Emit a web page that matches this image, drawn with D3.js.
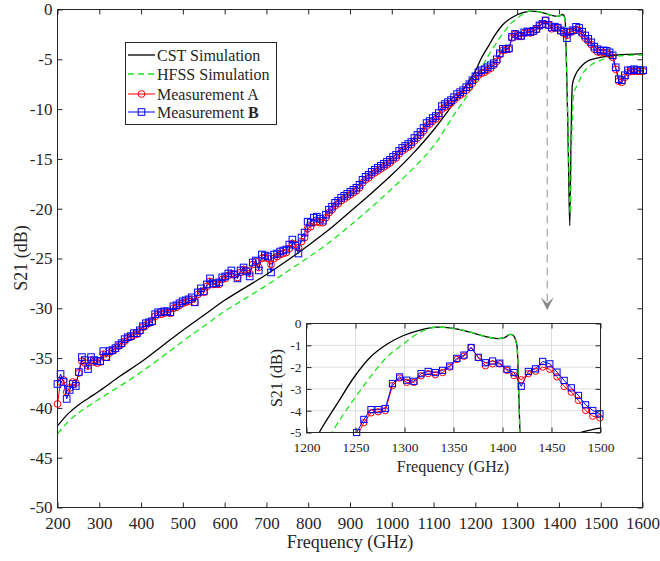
<!DOCTYPE html>
<html>
<head>
<meta charset="utf-8">
<script src="https://cdn.jsdelivr.net/npm/d3@7"></script>
<style>
  body { margin: 0; background: #fff; }
  svg { display: block; }
  text { font-family: "Liberation Serif", "Times New Roman", serif; fill: #262626; }
</style>
</head>
<body>
<svg id="chart" width="660" height="561"></svg>
<script>
// DATA

// CST simulation
var cstFreq = [200,225,250,275,300,350,400,450,500,550,600,650,700,750,800,850,900,950,1000,1050,1100,1150,1180,1200,1213,1231,1248,1265,1282,1299,1316,1333,1350,1367,1383,1395,1402,1408,1411,1413,1415,1416.5,1418,1421,1423.5,1426,1428,1430,1432,1438,1444,1456,1468,1484,1500,1520,1541,1570,1600]
var cstS21 = [-41.8,-40.6,-39.7,-39.0,-38.3,-36.8,-35.4,-33.8,-32.2,-30.7,-29.2,-27.9,-26.6,-25.2,-23.7,-22.1,-20.3,-18.5,-16.6,-14.5,-12.1,-9.3,-7.5,-6.2,-5.0,-3.7,-2.5,-1.55,-0.95,-0.55,-0.3,-0.17,-0.22,-0.4,-0.6,-0.69,-0.65,-0.5,-0.55,-0.7,-1.1,-3.0,-5.3,-11,-17,-21.7,-16,-10.5,-7.6,-6.7,-6.2,-5.6,-5.2,-4.95,-4.8,-4.68,-4.57,-4.5,-4.45]

// HFSS simulation
var hfssFreq = [200,225,250,275,300,350,400,450,500,550,600,650,700,750,800,850,900,950,1000,1050,1100,1150,1200,1226,1248,1265,1282,1299,1316,1333,1350,1367,1383,1395,1402,1408,1411,1413,1415,1416.5,1418,1421,1424,1427,1430,1433,1436,1444,1456,1476,1500,1531,1565,1600]
var hfssS21 = [-42.6,-41.4,-40.5,-39.8,-39.1,-37.8,-36.4,-34.9,-33.3,-31.8,-30.3,-29.0,-27.7,-26.3,-24.9,-23.4,-21.7,-19.9,-18.0,-16.0,-13.7,-10.5,-7.3,-5.0,-3.5,-2.46,-1.54,-0.93,-0.4,-0.17,-0.22,-0.4,-0.6,-0.69,-0.65,-0.5,-0.55,-0.75,-1.2,-3.2,-5.5,-10.5,-16,-20.5,-14,-10,-8.3,-7.6,-6.5,-5.6,-5.1,-4.7,-4.6,-4.57]

// Measurements: sampled every 7.3 GHz starting at 200 GHz
var measStart = 200
var measStep = 7.3
var measA = [
  -39.6,-37.4,-37.2,-38.4,-38.0,-37.4,-37.5,-36.5,-35.3,-35.5,
  -35.8,-35.2,-35.4,-35.5,-35.4,-34.6,-34.9,-34.5,-34.3,-34.1,
  -33.8,-33.6,-33.3,-33.0,-32.9,-32.7,-32.6,-32.3,-31.9,-31.7,
  -31.5,-31.4,-30.8,-30.6,-30.6,-30.5,-30.4,-30.5,-30.0,-29.9,
  -29.7,-29.5,-29.4,-29.3,-29.1,-29.4,-28.6,-28.3,-28.4,-27.8,
  -27.3,-27.6,-27.6,-27.6,-27.1,-27.0,-26.7,-26.5,-26.6,-26.9,
  -26.4,-26.1,-26.2,-26.5,-25.6,-25.3,-25.9,-25.0,-24.9,-25.0,
  -25.6,-25.0,-24.8,-24.6,-24.5,-24.4,-24.0,-23.5,-23.6,-23.9,
  -23.3,-22.9,-22.0,-21.8,-21.4,-21.3,-21.4,-21.4,-20.9,-20.4,
  -20.1,-19.7,-19.5,-19.2,-19.0,-18.8,-18.6,-18.4,-18.2,-17.9,
  -17.4,-17.1,-16.9,-16.6,-16.4,-16.2,-16.0,-15.8,-15.6,-15.4,
  -15.1,-14.9,-14.5,-14.2,-14.0,-13.8,-13.6,-13.2,-12.9,-12.6,
  -12.2,-11.7,-11.5,-11.2,-11.0,-10.7,-10.0,-9.8,-9.6,-9.4,
  -9.1,-8.8,-8.6,-8.4,-8.1,-7.8,-7.4,-7.0,-6.6,-6.4,
  -6.3,-6.1,-5.9,-5.6,-5.2,-4.55,-4.1,-4.05,-4.0,-2.85,
  -2.5,-2.7,-2.7,-2.4,-2.3,-2.35,-2.25,-2.0,-1.65,-1.5,
  -1.1,-1.57,-1.94,-1.85,-1.85,-2.15,-2.39,-2.58,-2.3,-2.19,
  -2.0,-2.1,-2.45,-2.89,-3.15,-3.53,-3.99,-4.25,-4.33,-4.3,
  -4.35,-4.5,-4.8,-6.0,-7.2,-7.3,-6.8,-6.3,-6.2,-6.2,
  -6.2,-6.2,-6.2]
var measB = [
  -37.6,-36.6,-37.4,-39.1,-38.2,-37.6,-37.8,-36.4,-34.9,-35.2,
  -36.1,-34.9,-35.2,-35.3,-35.3,-34.3,-34.9,-34.3,-34.2,-34.0,
  -33.7,-33.5,-33.1,-32.9,-32.8,-32.5,-32.5,-32.2,-31.8,-31.5,
  -31.4,-31.3,-30.6,-30.4,-30.4,-30.3,-30.3,-30.4,-29.8,-29.7,
  -29.5,-29.3,-29.2,-29.1,-28.9,-29.4,-28.4,-28.0,-28.3,-27.6,
  -27.0,-27.5,-27.5,-27.4,-26.9,-26.8,-26.5,-26.2,-26.6,-27.0,
  -26.2,-25.9,-26.3,-26.8,-25.4,-25.2,-26.2,-24.6,-24.7,-24.8,
  -26.4,-24.6,-24.5,-24.3,-24.2,-24.1,-23.6,-23.1,-23.7,-24.5,
  -22.9,-22.4,-21.3,-21.4,-20.9,-20.8,-21.0,-21.2,-20.6,-20.1,
  -19.8,-19.4,-19.2,-18.9,-18.7,-18.5,-18.3,-18.1,-17.9,-17.6,
  -17.1,-16.8,-16.6,-16.3,-16.1,-15.9,-15.7,-15.5,-15.3,-15.1,
  -14.8,-14.6,-14.2,-13.9,-13.7,-13.5,-13.3,-12.9,-12.6,-12.3,
  -11.9,-11.4,-11.2,-10.9,-10.7,-10.4,-9.7,-9.5,-9.3,-9.1,
  -8.8,-8.5,-8.3,-8.1,-7.8,-7.5,-7.1,-6.7,-6.3,-6.1,
  -6.0,-5.8,-5.6,-5.4,-5.0,-4.4,-3.95,-3.95,-3.9,-2.75,
  -2.45,-2.6,-2.65,-2.3,-2.2,-2.25,-2.15,-1.95,-1.6,-1.45,
  -1.1,-1.55,-1.8,-1.72,-1.82,-2.1,-2.25,-2.88,-2.2,-2.08,
  -1.74,-1.85,-2.23,-2.61,-2.95,-3.3,-3.73,-3.99,-4.14,-4.1,
  -4.15,-4.3,-4.6,-5.8,-7.0,-7.1,-6.6,-6.1,-6.1,-6.0,
  -6.1,-6.1,-6.1]

// Main axes ticks
var mainXTicks = [200,300,400,500,600,700,800,900,1000,1100,1200,1300,1400,1500,1600]
var mainYTicks = [-50,-45,-40,-35,-30,-25,-20,-15,-10,-5,0]
// Inset ticks
var insetXTicks = [1200,1250,1300,1350,1400,1450,1500]
var insetYTicks = [-5,-4,-3,-2,-1,0]

// Arrow pointing to the inset (frequency, from dB, to dB)
var arrowFreq = 1372
var arrowFrom = -2.4
var arrowTo = -30.2

var legendNames = ['CST Simulation', 'HFSS Simulation', 'Measurement A', 'Measurement ']


// BUILD SERIES
function zipSeries(fs, vs) {
  return fs.map((f, i) => ({f: f, v: vs[i]}))
}
var cst = zipSeries(cstFreq, cstS21)
var hfss = zipSeries(hfssFreq, hfssS21)
var mA = measA.map((v, i) => ({f: measStart + i * measStep, v: v}))
var mB = measB.map((v, i) => ({f: measStart + i * measStep, v: v}))

var colors = {cst: '#000000', hfss: '#19e619', A: '#ff0000', B: '#0000ff'}
var axisColor = '#262626'

var svg = d3.select('#chart')

// Draws curves + markers inside a given pair of scales
function drawPlot(g, x, y, clipId, opts) {
  let [x0, x1] = x.range()
  let [y0, y1] = y.range()
  g.append('clipPath').attr('id', clipId)
    .append('rect').attr('x', x0).attr('y', y1).attr('width', x1 - x0).attr('height', y0 - y1)

  let line = d3.line().x(d => x(d.f)).y(d => y(d.v))
  let smooth = d3.line().x(d => x(d.f)).y(d => y(d.v)).curve(d3.curveMonotoneX)

  let lines = g.append('g').attr('clip-path', `url(#${clipId})`)
  lines.append('path').datum(cst).attr('d', smooth)
    .attr('fill', 'none').attr('stroke', colors.cst).attr('stroke-width', opts.simWidth)
  lines.append('path').datum(hfss).attr('d', smooth)
    .attr('fill', 'none').attr('stroke', colors.hfss).attr('stroke-width', opts.simWidth)
    .attr('stroke-dasharray', opts.dash)
  lines.append('path').datum(mA).attr('d', line)
    .attr('fill', 'none').attr('stroke', colors.A).attr('stroke-width', 1)
  lines.append('path').datum(mB).attr('d', line)
    .attr('fill', 'none').attr('stroke', colors.B).attr('stroke-width', 1)

  // Markers: keep those whose centre is inside the axes (not clipped, like MATLAB)
  let [fx0, fx1] = x.domain()
  let [fy0, fy1] = y.domain()
  let inside = d => d.f >= fx0 - 0.5 && d.f <= fx1 + 2 && d.v >= fy0 - 0.05 && d.v <= fy1
  g.append('g').selectAll('circle')
    .data(mA.filter(inside))
    .join('circle')
      .attr('cx', d => x(d.f)).attr('cy', d => y(d.v)).attr('r', opts.r)
      .attr('fill', 'none').attr('stroke', colors.A).attr('stroke-width', 1)
  let s = opts.sq
  g.append('g').selectAll('rect')
    .data(mB.filter(inside))
    .join('rect')
      .attr('x', d => x(d.f) - s / 2).attr('y', d => y(d.v) - s / 2)
      .attr('width', s).attr('height', s)
      .attr('fill', 'none').attr('stroke', colors.B).attr('stroke-width', 1)
}

// Inward ticks on all four sides + box
function drawAxes(g, x, y, xt, yt, fontSize, xPad, yPad) {
  let [x0, x1] = x.range()
  let [y0, y1] = y.range()
  let fmt = d => String(d)
  let bottom = g.append('g').attr('transform', `translate(0,${y0})`)
    .call(d3.axisBottom(x).tickValues(xt).tickSize(-5).tickPadding(xPad).tickFormat(fmt))
  let left = g.append('g').attr('transform', `translate(${x0},0)`)
    .call(d3.axisLeft(y).tickValues(yt).tickSize(-5).tickPadding(yPad).tickFormat(fmt))
  let top = g.append('g').attr('transform', `translate(0,${y1})`)
    .call(d3.axisTop(x).tickValues(xt).tickSize(-5).tickFormat(''))
  let right = g.append('g').attr('transform', `translate(${x1},0)`)
    .call(d3.axisRight(y).tickValues(yt).tickSize(-5).tickFormat(''))
  for (let a of [bottom, left, top, right]) {
    a.select('.domain').remove()
    a.selectAll('line').attr('stroke', axisColor)
    a.selectAll('text').attr('fill', axisColor)
      .style('font-size', fontSize + 'px')
      .style('font-family', '"Liberation Serif", "Times New Roman", serif')
  }
  g.append('rect').attr('x', x0).attr('y', y1).attr('width', x1 - x0).attr('height', y0 - y1)
    .attr('fill', 'none').attr('stroke', axisColor).attr('stroke-width', 1)
}


// MAIN CHART
var x = d3.scaleLinear().domain([200, 1600]).range([57.5, 642.5])
var y = d3.scaleLinear().domain([-50, 0]).range([507.5, 9.5])

var gMain = svg.append('g')
drawPlot(gMain, x, y, 'clipMain', {simWidth: 1.3, dash: '6,4', r: 3.4, sq: 6.6})
drawAxes(gMain, x, y, mainXTicks, mainYTicks, 17, 9, 5)

gMain.append('text')
  .attr('transform', 'translate(27,258) rotate(-90)')
  .attr('text-anchor', 'middle')
  .style('font-size', '18px')
  .text('S21 (dB)')
gMain.append('text')
  .attr('x', 350).attr('y', 548)
  .attr('text-anchor', 'middle')
  .style('font-size', '18px')
  .text('Frequency (GHz)')

// Dashed arrow from the peak to the inset
gMain.append('line')
  .attr('x1', x(arrowFreq)).attr('x2', x(arrowFreq))
  .attr('y1', y(arrowFrom)).attr('y2', y(arrowTo) - 4)
  .attr('stroke', '#a6a6a6').attr('stroke-width', 1.2).attr('stroke-dasharray', '8,5')
var ax = x(arrowFreq), ay = y(arrowTo)
gMain.append('path')
  .attr('d', `M${ax - 6.5},${ay - 13} L${ax},${ay} L${ax + 6.5},${ay - 13} L${ax},${ay - 7} Z`)
  .attr('fill', '#8c8c8c')

// Legend
var legend = gMain.append('g')
legend.append('rect').attr('x', 125.5).attr('y', 42.5).attr('width', 151).attr('height', 82)
  .attr('fill', '#fff').attr('stroke', axisColor).attr('stroke-width', 1)
var legendY = [55, 74, 94, 112]
var legendKeys = ['cst', 'hfss', 'A', 'B']
legendKeys.forEach(function (k, i) {
  let ly = legendY[i]
  let ln = legend.append('line').attr('x1', 128).attr('x2', 155).attr('y1', ly).attr('y2', ly)
    .attr('stroke', colors[k]).attr('stroke-width', k == 'cst' || k == 'hfss' ? 1.3 : 1)
  if (k == 'hfss') ln.attr('stroke-dasharray', '6,4')
  if (k == 'A') legend.append('circle').attr('cx', 141.5).attr('cy', ly).attr('r', 3.4)
    .attr('fill', 'none').attr('stroke', colors.A)
  if (k == 'B') legend.append('rect').attr('x', 141.5 - 3.3).attr('y', ly - 3.3)
    .attr('width', 6.6).attr('height', 6.6).attr('fill', 'none').attr('stroke', colors.B)
  let t = legend.append('text').attr('x', 157).attr('y', ly + 5.5).style('font-size', '16px')
    .text(legendNames[i])
  if (k == 'B') t.append('tspan').style('font-weight', 'bold').text('B')
})


// INSET (zoom on the pass band)
var xi = d3.scaleLinear().domain([1200, 1500]).range([306.5, 600.5])
var yi = d3.scaleLinear().domain([-5, 0]).range([432.5, 323.5])

var gIn = svg.append('g')
gIn.append('rect').attr('x', 306.5).attr('y', 323.5).attr('width', 294).attr('height', 109).attr('fill', '#fff')
// Grid
gIn.append('g').selectAll('line.gx')
  .data(insetXTicks.slice(1, -1))
  .join('line')
    .attr('x1', d => xi(d)).attr('x2', d => xi(d)).attr('y1', 323.5).attr('y2', 432.5)
    .attr('stroke', '#dedede').attr('stroke-width', 1)
gIn.append('g').selectAll('line.gy')
  .data(insetYTicks.slice(1, -1))
  .join('line')
    .attr('x1', 306.5).attr('x2', 600.5).attr('y1', d => yi(d)).attr('y2', d => yi(d))
    .attr('stroke', '#dedede').attr('stroke-width', 1)

drawPlot(gIn, xi, yi, 'clipInset', {simWidth: 1.3, dash: '6,4', r: 3.2, sq: 6.2})
drawAxes(gIn, xi, yi, insetXTicks, insetYTicks, 13.5, 10, 5)

gIn.append('text')
  .attr('transform', 'translate(282,378) rotate(-90)')
  .attr('text-anchor', 'middle')
  .style('font-size', '16px')
  .text('S21 (dB)')
gIn.append('text')
  .attr('x', 453).attr('y', 472)
  .attr('text-anchor', 'middle')
  .style('font-size', '16px')
  .text('Frequency (GHz)')
</script>
</body>
</html>
